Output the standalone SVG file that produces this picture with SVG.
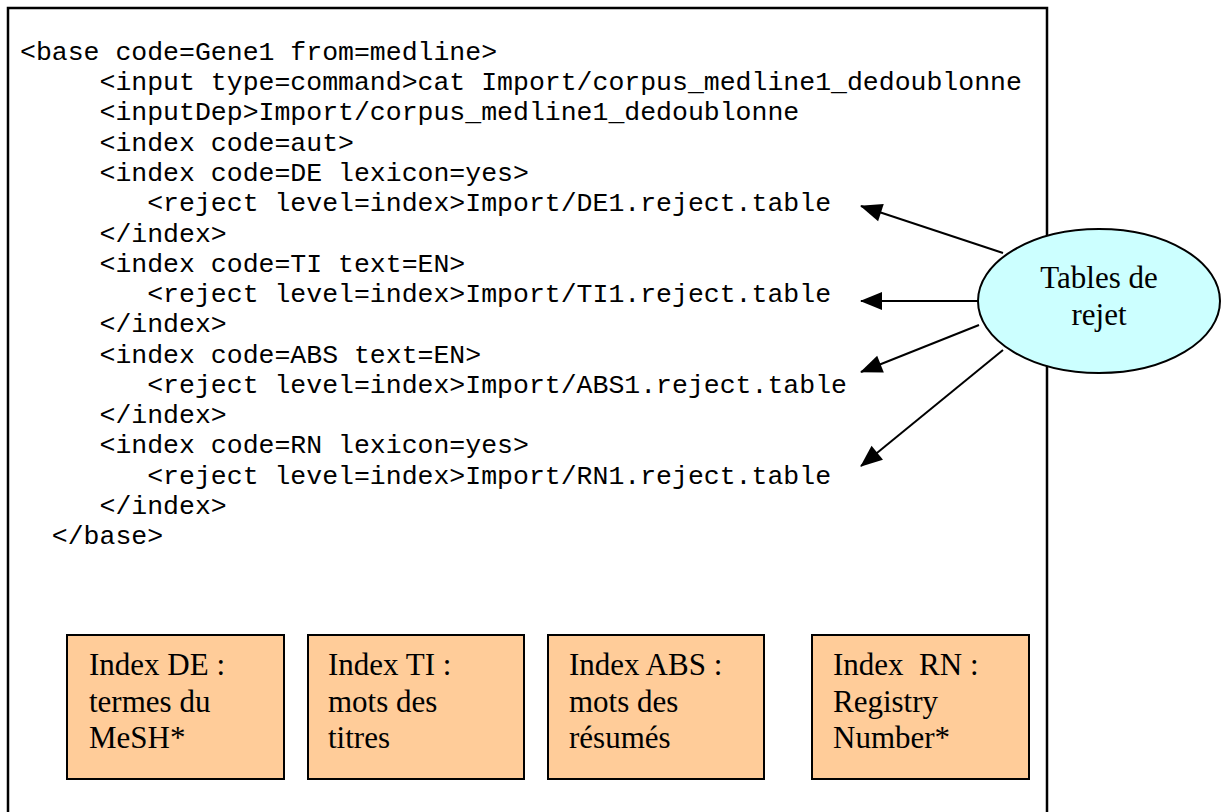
<svg xmlns="http://www.w3.org/2000/svg" width="1224" height="812" viewBox="0 0 1224 812">
<defs>
<style>
.code{font-family:"Liberation Mono","Courier New",monospace;font-size:26.5px;fill:#000;white-space:pre}
.serif{font-family:"Liberation Serif","Times New Roman",serif;font-size:31px;fill:#000;white-space:pre}
.box{fill:#FFCC99;stroke:#000;stroke-width:2}
.conn{stroke:#000;stroke-width:2;fill:none;marker-end:url(#ah)}
</style>
<marker id="ah" viewBox="0 0 22 18" refX="21" refY="9" markerWidth="22" markerHeight="18" markerUnits="userSpaceOnUse" orient="auto" overflow="visible">
<path d="M0,0 L22,9 L0,18 z" fill="#000"/>
</marker>
</defs>
<rect width="1224" height="812" fill="#fff"/>
<path d="M8,830 L8,8 L1047,8 L1047,830" fill="none" stroke="#000" stroke-width="2.5"/>
<g id="code" xml:space="preserve">
<text class="code" x="20" y="60">&lt;base code=Gene1 from=medline&gt;</text>
<text class="code" x="20" y="90">     &lt;input type=command&gt;cat Import/corpus_medline1_dedoublonne</text>
<text class="code" x="20" y="120">     &lt;inputDep&gt;Import/corpus_medline1_dedoublonne</text>
<text class="code" x="20" y="151">     &lt;index code=aut&gt;</text>
<text class="code" x="20" y="181">     &lt;index code=DE lexicon=yes&gt;</text>
<text class="code" x="20" y="211">        &lt;reject level=index&gt;Import/DE1.reject.table</text>
<text class="code" x="20" y="242">     &lt;/index&gt;</text>
<text class="code" x="20" y="272">     &lt;index code=TI text=EN&gt;</text>
<text class="code" x="20" y="302">        &lt;reject level=index&gt;Import/TI1.reject.table</text>
<text class="code" x="20" y="332">     &lt;/index&gt;</text>
<text class="code" x="20" y="363">     &lt;index code=ABS text=EN&gt;</text>
<text class="code" x="20" y="393">        &lt;reject level=index&gt;Import/ABS1.reject.table</text>
<text class="code" x="20" y="423">     &lt;/index&gt;</text>
<text class="code" x="20" y="453">     &lt;index code=RN lexicon=yes&gt;</text>
<text class="code" x="20" y="484">        &lt;reject level=index&gt;Import/RN1.reject.table</text>
<text class="code" x="20" y="514">     &lt;/index&gt;</text>
<text class="code" x="20" y="544">  &lt;/base&gt;</text>
</g>
<g id="connectors">
<line class="conn" x1="1003" y1="253" x2="861" y2="206"/>
<line class="conn" x1="978" y1="301" x2="861" y2="301"/>
<line class="conn" x1="979" y1="325" x2="861" y2="372"/>
<line class="conn" x1="1003" y1="350" x2="861" y2="466"/>
</g>
<g id="tables-rejet">
<ellipse cx="1099" cy="301" rx="121" ry="72" fill="#CCFFFF" stroke="#000" stroke-width="2"/>
<text class="serif" x="1099" y="288" text-anchor="middle">Tables de</text>
<text class="serif" x="1099" y="325" text-anchor="middle">rejet</text>
</g>
<g id="index-de">
<rect class="box" x="67" y="635" width="217" height="144"/>
<text class="serif" x="89" y="675">Index DE :</text>
<text class="serif" x="89" y="712">termes du</text>
<text class="serif" x="89" y="748">MeSH*</text>
</g>
<g id="index-ti">
<rect class="box" x="308" y="635" width="216" height="144"/>
<text class="serif" x="328" y="675">Index TI :</text>
<text class="serif" x="328" y="712">mots des</text>
<text class="serif" x="328" y="748">titres</text>
</g>
<g id="index-abs">
<rect class="box" x="548" y="635" width="216" height="144"/>
<text class="serif" x="569" y="675">Index ABS :</text>
<text class="serif" x="569" y="712">mots des</text>
<text class="serif" x="569" y="748">résumés</text>
</g>
<g id="index-rn">
<rect class="box" x="812" y="635" width="217" height="144"/>
<text class="serif" x="833" y="675" xml:space="preserve">Index  RN :</text>
<text class="serif" x="833" y="712">Registry</text>
<text class="serif" x="833" y="748">Number*</text>
</g>
</svg>
